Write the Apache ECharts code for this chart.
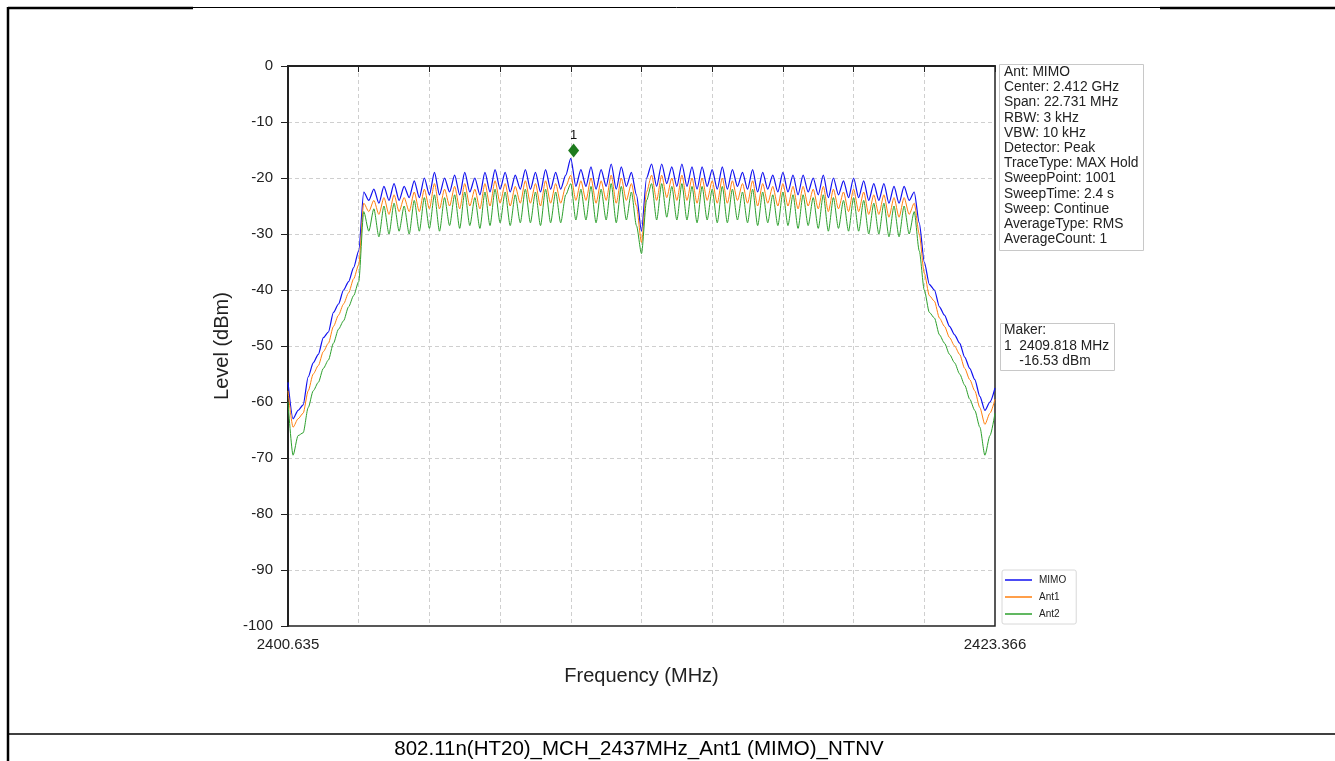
<!DOCTYPE html>
<html>
<head>
    <meta charset="utf-8">
    <title>802.11n(HT20)_MCH_2437MHz_Ant1 (MIMO)_NTNV</title>
    <script src="https://cdn.jsdelivr.net/npm/echarts@6/dist/echarts.min.js"></script>
    <style>
      html, body { margin: 0; padding: 0; background: #fff; }
    </style>
</head>
<body>
    <div id="main" style="width: 1335px;height:761px;"></div>
    <script type="text/javascript">
    var myChart = echarts.init(document.getElementById('main'));

    // Sweep settings (x axis is the sample index 0..140 over the span)
    var freqStart = 2400.635;
    var freqStop = 2423.366;
    var sampleCount = 141;
    var xTickLabels = ['2400.635', '2423.366'];
    var yTicks = [0, -10, -20, -30, -40, -50, -60, -70, -80, -90, -100];

    // Levels in dBm, one value per sample
    var mimo = [
      -56.5,-63,-61.5,-60.5,-55.5,-53,-51.5,-48.5,-47.5,-44,-42.5,-40,-38.5,-36,-33,
      -22.5,-24,-22,-24.5,-21.5,-24,-21,-24,-21.5,-23.5,-20.5,-23.5,-20,-23,-19,
      -23,-20,-22.5,-19.5,-23,-19,-22.5,-20,-23,-19,-22.5,-18.5,-22,-19,-22.5,
      -19.5,-22,-18.5,-22,-19,-22.5,-18.5,-22,-19,-22,-19.5,-16.5,-21.5,-18.5,-21.5,
      -18,-22,-18.5,-21.5,-17.5,-22,-18,-21.5,-19,-23,-29.5,-20,-17.5,-21.5,-17.5,
      -21,-18,-21.5,-17.5,-21.5,-18,-22,-18,-21.5,-18.5,-22,-18,-22,-18.5,-21.5,
      -19,-22,-18.5,-22.5,-19,-22,-19.5,-22.5,-19,-22.5,-19.5,-23,-19.5,-22.5,-20,
      -23,-19.5,-23.5,-20,-23,-20.5,-23.5,-20,-23.5,-20.5,-24,-21,-24,-21,-24.5,
      -21.5,-24.5,-21.5,-24,-22.5,-28,-35,-39,-40,-43,-44.5,-46.5,-48,-49.5,-52,
      -54,-56,-59,-61.5,-60,-57.5
    ];
    var ant1 = [
      -58,-64.5,-63,-62,-58,-55,-53.5,-51,-49.5,-46.5,-44.5,-42.5,-40.5,-38,-35.5,
      -24.5,-26,-24,-26.5,-23.5,-26.5,-23,-26,-23.5,-26,-22.5,-26,-22,-25.5,-21,
      -25.5,-22,-25,-21.5,-25.5,-21,-25,-22,-25.5,-21,-25,-20.5,-24.5,-21,-25,
      -21.5,-24.5,-20.5,-24.5,-21,-25,-20.5,-24.5,-21,-24.5,-21.5,-19.5,-24,-20.5,-24,
      -20,-24.5,-20.5,-24,-19.5,-24.5,-20,-24,-21,-25,-31.5,-22.5,-19.5,-24,-19.5,
      -23.5,-20,-24,-19.5,-24,-20,-24.5,-20,-24,-20.5,-24.5,-20,-24.5,-20.5,-24,
      -21,-24.5,-20.5,-25,-21,-24.5,-21.5,-25,-21,-25,-21.5,-25.5,-21.5,-25,-22,
      -25.5,-21.5,-26,-22,-25.5,-22.5,-26,-22,-26,-22.5,-26.5,-23,-26.5,-23,-27,
      -23.5,-27,-23.5,-26.5,-24.5,-30,-37,-41,-42,-45,-46.5,-48.5,-50,-51.5,-54,
      -56,-58,-61,-64,-62,-59.5
    ];
    var ant2 = [
      -60,-69.5,-66,-65.5,-61,-58,-56.5,-54,-52.5,-49.5,-47,-45.5,-43,-41,-38.5,
      -26,-29.5,-25.5,-30.5,-25,-30,-24.5,-29.5,-25,-30,-24,-29.5,-23.5,-29,-23,
      -29.5,-23.5,-28.5,-23,-29,-22.5,-28.5,-23.5,-29,-22.5,-28.5,-22,-28,-22.5,-28.5,
      -23,-28,-22,-28,-22.5,-28.5,-22,-28,-22.5,-28,-23,-21,-27.5,-22,-27.5,
      -21.5,-28,-22,-27.5,-21,-28,-21.5,-27.5,-22.5,-28.5,-33.5,-24,-21,-27.5,-21,
      -27,-21.5,-27.5,-21,-27.5,-21.5,-28,-21.5,-27.5,-22,-28,-21.5,-28,-22,-27.5,
      -22.5,-28,-22,-28.5,-22.5,-28,-23,-28.5,-22.5,-28.5,-23,-29,-23,-28.5,-23.5,
      -29,-23,-29.5,-23.5,-29,-24,-29.5,-23.5,-29.5,-24,-30,-24.5,-30,-24.5,-30.5,
      -25,-30.5,-25,-30,-26,-33,-40,-44,-45,-48,-49.5,-51.5,-53,-55,-57,
      -59.5,-61.5,-64.5,-69.5,-66,-62
    ];

    // Marker 1
    var markerFreq = 2409.818;
    var markerLevel = -16.53;

    var infoLines = [
      'Ant: MIMO', 'Center: 2.412 GHz', 'Span: 22.731 MHz', 'RBW: 3 kHz',
      'VBW: 10 kHz', 'Detector: Peak', 'TraceType: MAX Hold', 'SweepPoint: 1001',
      'SweepTime: 2.4 s', 'Sweep: Continue', 'AverageType: RMS', 'AverageCount: 1'
    ];
    var makerLines = ['Maker:', '1  2409.818 MHz', '    -16.53 dBm'];
    var caption = '802.11n(HT20)_MCH_2437MHz_Ant1 (MIMO)_NTNV';

    var font = '"Liberation Sans", Arial, sans-serif';
    var lastIdx = sampleCount - 1;
    var markerIdx = (markerFreq - freqStart) / (freqStop - freqStart) * lastIdx;

    function pairs(arr) {
      return arr.map(function (v, i) { return [i, v]; });
    }

    function lineSeries(name, color, arr, width) {
      return {
        name: name,
        type: 'line',
        symbol: 'none',
        smooth: 0.25,
        smoothMonotone: 'x',
        data: pairs(arr),
        lineStyle: { color: color, width: width },
        itemStyle: { color: color },
        z: 3
      };
    }

    var mimoSeries = lineSeries('MIMO', '#1010f0', mimo, 1.2);
    mimoSeries.markPoint = {
      symbol: 'diamond',
      symbolSize: [11, 14],
      symbolOffset: [0, -8],
      itemStyle: { color: '#1e7b1e' },
      label: {
        show: true,
        position: 'top',
        distance: 2,
        formatter: '1',
        color: '#111',
        fontSize: 13,
        fontFamily: font
      },
      data: [{ coord: [markerIdx, markerLevel] }]
    };

    var gridLine = { show: true, showMinLine: false, showMaxLine: false,
      lineStyle: { color: '#cfcfcf', type: [4, 3], width: 1 } };

    var option = {
      animation: false,
      backgroundColor: '#fff',
      textStyle: { fontFamily: font },
      grid: {
        left: 288,
        right: 340,
        top: 66,
        bottom: 135,
        show: true,
        borderColor: '#222',
        borderWidth: 1.5,
        backgroundColor: 'transparent'
      },
      legend: {
        orient: 'vertical',
        left: 1002,
        top: 570,
        icon: 'rect',
        itemWidth: 27,
        itemHeight: 1.5,
        itemGap: 7,
        padding: [5, 10, 5, 3],
        borderColor: '#d8d8d8',
        borderWidth: 1,
        borderRadius: 2,
        textStyle: { fontSize: 10, color: '#222', fontFamily: font, padding: [0, 0, 0, 2] },
        data: ['MIMO', 'Ant1', 'Ant2']
      },
      xAxis: {
        type: 'value',
        min: 0,
        max: lastIdx,
        interval: 14,
        name: 'Frequency (MHz)',
        nameLocation: 'middle',
        nameGap: 40,
        nameTextStyle: { fontSize: 20, color: '#222', fontFamily: font },
        axisLine: { lineStyle: { color: '#222', width: 2 } },
        axisTick: { show: true, length: 6, lineStyle: { color: '#222', width: 1 } },
        axisLabel: {
          color: '#222',
          fontSize: 15,
          fontFamily: font,
          margin: 11,
          showMinLabel: true,
          showMaxLabel: true,
          formatter: function (v) {
            if (v === 0) return xTickLabels[0];
            if (v === lastIdx) return xTickLabels[1];
            return '';
          }
        },
        splitLine: gridLine
      },
      yAxis: {
        type: 'value',
        min: yTicks[yTicks.length - 1],
        max: yTicks[0],
        interval: 10,
        name: 'Level (dBm)',
        nameLocation: 'middle',
        nameRotate: 90,
        nameGap: 54,
        nameTextStyle: { fontSize: 20, color: '#222', fontFamily: font },
        axisLine: { show: true, lineStyle: { color: '#222', width: 2 } },
        axisTick: { show: true, length: 7, lineStyle: { color: '#222', width: 1 } },
        axisLabel: { color: '#222', fontSize: 15, fontFamily: font, margin: 15 },
        splitLine: gridLine
      },
      series: [
        mimoSeries,
        lineSeries('Ant1', '#ff7f0e', ant1, 1),
        lineSeries('Ant2', '#2ca02c', ant2, 1)
      ],
      graphic: [
        // page frame
        { type: 'line', shape: { x1: 8, y1: 7, x2: 8, y2: 761 }, style: { stroke: '#000', lineWidth: 2.5 } },
        { type: 'line', shape: { x1: 8, y1: 8, x2: 193, y2: 8 }, style: { stroke: '#000', lineWidth: 2.5 } },
        { type: 'line', shape: { x1: 193, y1: 7.5, x2: 1160, y2: 7.5 }, style: { stroke: '#000', lineWidth: 1 } },
        { type: 'line', shape: { x1: 1160, y1: 8, x2: 1335, y2: 8 }, style: { stroke: '#000', lineWidth: 2.5 } },
        { type: 'line', shape: { x1: 8, y1: 734, x2: 1335, y2: 734 }, style: { stroke: '#000', lineWidth: 1.5 } },
        {
          type: 'text', x: 639, y: 739,
          style: { text: caption, fontSize: 20.5, fill: '#000', fontFamily: font, textAlign: 'center' }
        },
        // info box
        {
          type: 'rect', shape: { x: 999.5, y: 64.5, width: 144, height: 186 },
          style: { fill: '#fff', stroke: '#c8c8c8', lineWidth: 1 }, z: 10
        },
        {
          type: 'text', x: 1004, y: 64.5, z: 11,
          style: { text: infoLines.join('\n'), fontSize: 13.8, lineHeight: 15.2, fill: '#222', fontFamily: font }
        },
        // marker box
        {
          type: 'rect', shape: { x: 1000.5, y: 323.5, width: 114, height: 47 },
          style: { fill: '#fff', stroke: '#c8c8c8', lineWidth: 1 }, z: 10
        },
        {
          type: 'text', x: 1004, y: 323, z: 11,
          style: { text: makerLines.join('\n'), fontSize: 13.8, lineHeight: 15.2, fill: '#222', fontFamily: font }
        }
      ]
    };

    myChart.setOption(option);
    </script>
</body>
</html>
